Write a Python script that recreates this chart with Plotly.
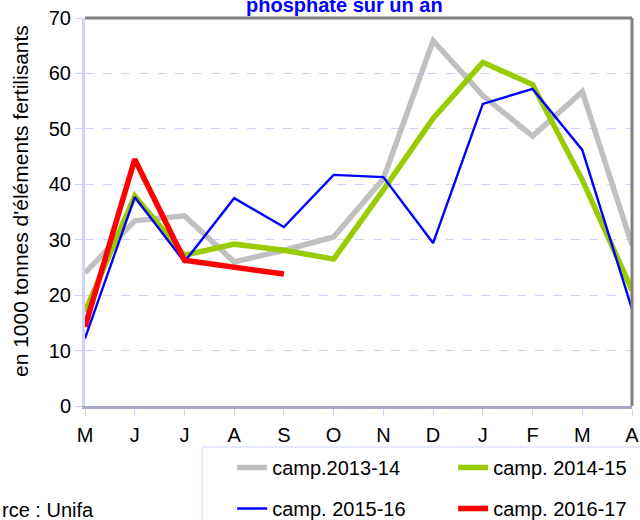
import plotly.graph_objects as go

months = ["M", "J", "J", "A", "S", "O", "N", "D", "J", "F", "M", "A"]
s2013 = [24.0, 33.4, 34.3, 26.0, 28.1, 30.5, 41.0, 65.9, 56.0, 48.7, 56.7, 29.0]
s2014 = [17.0, 37.9, 27.2, 29.2, 28.1, 26.5, 39.0, 51.9, 62.0, 58.0, 40.8, 20.9]
s2015 = [12.2, 37.7, 26.0, 37.5, 32.3, 41.7, 41.3, 29.4, 54.5, 57.2, 46.2, 17.5]
s2016 = [14.3, 44.5, 26.3, 25.1, 23.8]
names = ["camp.2013-14", "camp. 2014-15", "camp. 2015-16", "camp. 2016-17"]

FONT = "Liberation Sans, Arial, sans-serif"
xs = list(range(len(months)))

fig = go.Figure()
series = [
    (s2013, names[0], "#c0c0c0", 5.5, "legend"),
    (s2014, names[1], "#99cc00", 5.5, "legend"),
    (s2015, names[2], "#0000ff", 2.4, "legend2"),
    (s2016, names[3], "#ff0000", 5.5, "legend2"),
]
for vals, name, color, w, lg in series:
    fig.add_trace(go.Scatter(
        x=xs[:len(vals)], y=vals, name=name, mode="lines",
        line=dict(color=color, width=w), legend=lg, cliponaxis=True,
    ))

legend_common = dict(orientation="h", xanchor="left", yanchor="top",
                     entrywidth=176, entrywidthmode="pixels",
                     font=dict(size=20, family=FONT), bgcolor="rgba(0,0,0,0)",
                     itemwidth=30, traceorder="normal")

fig.update_layout(
    width=640, height=520,
    margin=dict(l=85, r=8, t=18, b=114, autoexpand=False),
    paper_bgcolor="white", plot_bgcolor="white",
    font=dict(family=FONT, size=20, color="black"),
    showlegend=True,
    legend=dict(x=0.269, y=-0.108, **legend_common),
    legend2=dict(x=0.269, y=-0.214, **legend_common),
)

fig.update_xaxes(
    range=[0, 11], tickmode="array", tickvals=xs, ticktext=months,
    showgrid=False, zeroline=False, automargin=False,
    showline=True, linecolor="#a8a8c8", linewidth=3,
    ticks="outside", ticklen=7, tickwidth=1, tickcolor="#d0d0ff",
    ticklabelstandoff=2,
    tickfont=dict(size=20, family=FONT),
)
fig.update_yaxes(
    range=[0, 70], tickvals=[0, 10, 20, 30, 40, 50, 60, 70],
    showgrid=True, gridcolor="#d0d0ff", griddash="dash", gridwidth=1,
    zeroline=False, automargin=False,
    showline=True, linecolor="#d0d0ff", linewidth=3,
    ticks="outside", ticklen=7, tickwidth=1, tickcolor="#d0d0ff",
    tickfont=dict(size=20, family=FONT),
)

# y-axis title
fig.add_annotation(text="en 1000 tonnes d'éléments fertilisants", xref="paper", yref="paper",
                   x=-0.119, y=0.528, xanchor="center", yanchor="middle", textangle=-90,
                   showarrow=False, font=dict(size=21, color="black", family=FONT))

# plot frame (top & right dark gray)
fig.add_shape(type="line", xref="paper", yref="paper", x0=0, x1=1, y0=1, y1=1,
              line=dict(color="#808080", width=3))
fig.add_shape(type="line", xref="paper", yref="paper", x0=1, x1=1, y0=0, y1=1,
              line=dict(color="#808080", width=3))
# legend frame
fig.add_shape(type="rect", xref="paper", yref="paper", x0=0.214, x1=1.03,
              y0=-0.32, y1=-0.1057, line=dict(color="#d0d0ff", width=1),
              fillcolor="rgba(0,0,0,0)", layer="below")

fig.add_annotation(text="<b>phosphate sur un an</b>", xref="paper", yref="paper",
                   x=0.475, y=1.0335, xanchor="center", yanchor="middle",
                   showarrow=False, font=dict(size=20, color="#0000ff", family=FONT))
fig.add_annotation(text="rce : Unifa", xref="paper", yref="paper",
                   x=-0.155, y=-0.268, xanchor="left", yanchor="middle",
                   showarrow=False, font=dict(size=20, color="black", family=FONT))

fig.write_html("out.html", config={"displayModeBar": False},
               post_script="document.body.style.margin='0';")
